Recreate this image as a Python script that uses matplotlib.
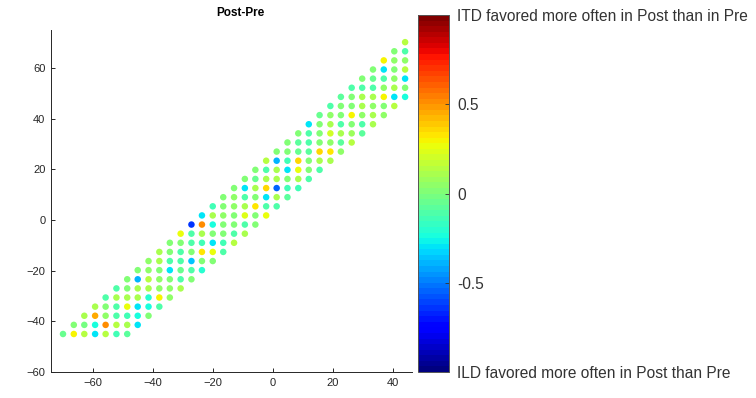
import matplotlib
matplotlib.use("Agg")
import matplotlib.pyplot as plt
import numpy as np

plt.rcParams['font.family'] = ['Liberation Sans', 'DejaVu Sans']

# grid levels (x: columns, y: rows)
x_levels = [-70.0, -66.4, -62.9, -59.3, -55.8, -52.2, -48.6, -45.1, -41.5, -37.9,
            -34.4, -30.8, -27.2, -23.7, -20.1, -16.6, -13.0, -9.4, -5.9, -2.3,
            1.2, 4.8, 8.4, 11.9, 15.5, 19.1, 22.6, 26.2, 29.7, 33.3, 36.9, 40.4, 44.0]
y_levels = [-45.0, -41.4, -37.8, -34.2, -30.6, -27.0, -23.4, -19.8, -16.2, -12.6,
            -9.0, -5.4, -1.8, 1.8, 5.4, 9.0, 12.6, 16.2, 19.8, 23.4,
            27.0, 30.6, 34.2, 37.8, 41.4, 45.0, 48.6, 52.2, 55.8, 59.4, 63.0, 66.6, 70.2]

# values per row j; first entry is at column j, following entries at j+1, j+2, ...
row_values = [
    [-0.05, 0.30, 0.15, -0.30, 0.15, -0.15, -0.08],
    [0.02, -0.02, -0.22, 0.50, 0.15, 0.12, -0.30],
    [0.12, 0.45, 0.05, -0.10, -0.15, -0.25, 0.00],
    [0.12, 0.00, -0.10, 0.25, -0.30, -0.25, -0.10],
    [-0.10, 0.12, 0.12, 0.10, -0.20, 0.30, 0.05],
    [-0.10, 0.00, 0.12, 0.10, 0.05, 0.05, 0.12],
    [0.00, -0.40, 0.15, 0.05, 0.00, -0.10, 0.00],
    [0.00, 0.05, 0.00, -0.30, -0.05, -0.10, -0.20],
    [0.05, 0.10, -0.10, -0.10, -0.35, 0.00, 0.00],
    [0.12, 0.00, -0.10, 0.00, 0.32, 0.25, -0.12],
    [0.00, 0.00, -0.10, -0.15, -0.30, -0.15, 0.15],
    [0.28, -0.10, 0.12, 0.00, 0.00, -0.10, 0.12],
    [-0.65, 0.50, -0.25, 0.00, 0.00, -0.10, 0.00],
    [-0.30, 0.12, 0.05, 0.00, 0.22, 0.00, 0.25],
    [-0.15, 0.00, 0.05, 0.12, 0.32, -0.12, -0.10],
    [0.00, 0.05, -0.10, 0.00, -0.30, 0.12, -0.08],
    [0.00, -0.30, 0.12, 0.35, -0.55, -0.15, -0.15],
    [0.00, -0.05, 0.12, 0.10, 0.00, 0.10, -0.12],
    [0.00, -0.10, 0.12, -0.30, 0.28, 0.00, -0.12],
    [0.15, -0.40, -0.15, 0.35, 0.00, 0.10, 0.12],
    [0.00, 0.00, -0.05, -0.08, 0.35, 0.33, 0.05],
    [0.00, -0.08, -0.10, 0.00, 0.05, -0.08, 0.15],
    [0.00, -0.10, 0.00, 0.20, 0.12, 0.08, -0.08],
    [-0.30, 0.00, 0.12, -0.10, 0.00, -0.10, 0.12],
    [-0.05, 0.05, 0.00, 0.30, 0.05, 0.12, 0.05],
    [-0.10, 0.00, 0.00, 0.12, 0.05, 0.00, 0.15],
    [-0.08, 0.00, 0.10, 0.12, 0.30, -0.30, -0.25],
    [-0.10, -0.10, -0.10, 0.05, 0.10, 0.00],
    [0.00, -0.05, -0.10, 0.05, -0.30],
    [0.00, -0.30, 0.00, 0.15],
    [0.30, 0.05, 0.05],
    [0.00, -0.10],
    [0.15],
]

cbar_ticks = [-1, -0.5, 0, 0.5, 1]
cbar_labels = ['ILD favored more often in Post than Pre', '-0.5', '0', '0.5',
               'ITD favored more often in Post than in Pre']
x_ticks = [-60, -40, -20, 0, 20, 40]
y_ticks = [-60, -40, -20, 0, 20, 40, 60]

xs, ys, vs = [], [], []
for j, vals in enumerate(row_values):
    for k, v in enumerate(vals):
        xs.append(x_levels[j + k])
        ys.append(y_levels[j])
        vs.append(v)

W, H = 756, 398
fig = plt.figure(figsize=(W / 100, H / 100), dpi=100)
ax = fig.add_axes([51 / W, 1 - 372 / H, (412 - 51) / W, (372 - 30) / H])
cmap = plt.get_cmap('jet', 64)
sc = ax.scatter(xs, ys, c=vs, cmap=cmap, vmin=-1, vmax=1, s=22, edgecolors='none')
ax.set_xlim(-74, 46.3)
ax.set_ylim(-60, 75)
ax.set_xticks(x_ticks)
ax.set_yticks(y_ticks)
txtc = '#262626'
for sp in ['top', 'right']:
    ax.spines[sp].set_visible(False)
for sp in ['left', 'bottom']:
    ax.spines[sp].set_color('#262626')
    ax.spines[sp].set_linewidth(0.7)
ax.tick_params(direction='in', length=3, width=0.7, labelsize=8, colors=txtc, pad=4)
ax.set_title('Post-Pre', fontsize=8.5, fontweight='bold', color='black', pad=10, x=0.525)

cax = fig.add_axes([418 / W, 1 - 372 / H, 31 / W, 357 / H])
cb = fig.colorbar(sc, cax=cax, ticks=cbar_ticks)
cb.ax.set_yticklabels(cbar_labels)
cb.ax.tick_params(direction='in', length=3, width=0.6, labelsize=11.2, colors='#333333', pad=6)
cb.outline.set_edgecolor('#555555')
cb.outline.set_linewidth(0.7)

fig.savefig('out.png', dpi=100)
